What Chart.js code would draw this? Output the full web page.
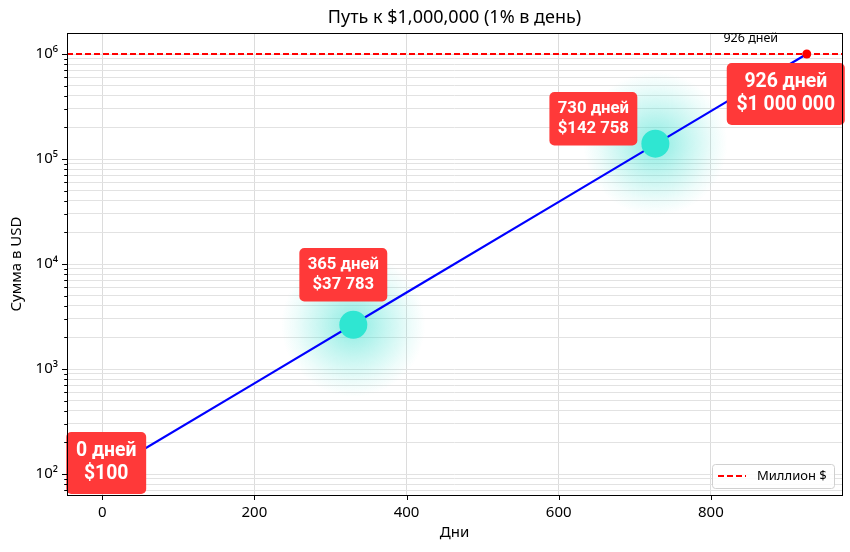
<!DOCTYPE html>
<html lang="ru">
<head>
<meta charset="utf-8">
<title>Путь к $1,000,000</title>
<script src="https://cdn.jsdelivr.net/npm/chart.js@4.4.1/dist/chart.umd.min.js"></script>
<style>
  html, body { margin: 0; padding: 0; background: #fff; }
  canvas { display: block; }
</style>
</head>
<body>
<canvas id="chart" width="850" height="552"></canvas>
<script>
// values
const days = [0, 200, 400, 600, 800, 926];
const balance = [100, 730, 5350, 39100, 286000, 1000000];

const millionLevel = 1000000;
const xLimits = [-46.3, 972.3];
const yLimits = [63.1, 1585000];

const markerDays = [330, 727];
const markerSums = [2640, 140000];

const goalDays = [926];
const goalSums = [1000000];

const labelDays = [0, 330, 727, 926];
const labelSums = [100, 2640, 140000, 1000000];
const labelLines = [
    ["0 дней", "$100"],
    ["365 дней", "$37 783"],
    ["730 дней", "$142 758"],
    ["926 дней", "$1 000 000"]
];
const goalNote = "926 дней";

const xTicks = [0, 200, 400, 600, 800];
const yDecades = [100, 1000, 10000, 100000, 1000000];
const yTickLabels = ["10²", "10³", "10⁴", "10⁵", "10⁶"];
const yMinorDecades = [10, 100, 1000, 10000, 100000, 1000000];
const yMinorSteps = [2, 3, 4, 5, 6, 7, 8, 9];

const titleText = "Путь к $1,000,000 (1% в день)";
const xTitle = "Дни";
const yTitle = "Сумма в USD";

// styling
const FONT = "'Noto Sans', sans-serif";
const BOX_FONT = "Roboto, sans-serif";
const labelOffsets = [[4, -11], [-10, -50], [-62, -25], [-21, 40]];
const labelSizes = [19.4, 16.7, 16.7, 19.4];

function yTickValues() {
    let vals = [];
    yMinorDecades.forEach(d => {
        [1].concat(yMinorSteps).forEach(m => {
            let v = m * d;
            if (v >= yLimits[0] && v <= yLimits[1]) vals.push(v);
        });
    });
    return vals;
}

function roundRect(ctx, x, y, w, h, r) {
    ctx.beginPath();
    ctx.moveTo(x + r, y);
    ctx.arcTo(x + w, y, x + w, y + h, r);
    ctx.arcTo(x + w, y + h, x, y + h, r);
    ctx.arcTo(x, y + h, x, y, r);
    ctx.arcTo(x, y, x + w, y, r);
    ctx.closePath();
}

const glowPlugin = {
    id: "glow",
    beforeDatasetsDraw(chart) {
        const ctx = chart.ctx, xs = chart.scales.x, ys = chart.scales.y;
        const area = chart.chartArea;
        ctx.save();
        ctx.beginPath();
        ctx.rect(area.left, area.top, area.right - area.left, area.bottom - area.top);
        ctx.clip();
        markerDays.forEach((d, i) => {
            let px = xs.getPixelForValue(d), py = ys.getPixelForValue(markerSums[i]);
            let g = ctx.createRadialGradient(px, py, 0, px, py, 72);
            g.addColorStop(0, "rgba(64,224,208,0.6)");
            g.addColorStop(0.45, "rgba(64,224,208,0.3)");
            g.addColorStop(0.8, "rgba(64,224,208,0.09)");
            g.addColorStop(1, "rgba(64,224,208,0)");
            ctx.fillStyle = g;
            ctx.fillRect(px - 72, py - 72, 144, 144);
        });
        ctx.restore();
    }
};

const decorPlugin = {
    id: "decor",
    afterDatasetsDraw(chart) {
        const ctx = chart.ctx, xs = chart.scales.x, ys = chart.scales.y;
        const area = chart.chartArea;
        ctx.save();

        // label boxes
        labelLines.forEach((lines, i) => {
            let size = labelSizes[i];
            ctx.font = "bold " + size + "px " + BOX_FONT;
            let w = Math.max(...lines.map(t => ctx.measureText(t).width)) + size;
            let h = size * 2.2 + size;
            let cx = xs.getPixelForValue(labelDays[i]) + labelOffsets[i][0];
            let cy = ys.getPixelForValue(labelSums[i]) + labelOffsets[i][1];
            ctx.fillStyle = "#ff3939";
            roundRect(ctx, cx - w / 2, cy - h / 2, w, h, 5);
            ctx.fill();
            ctx.fillStyle = "#ffffff";
            ctx.textAlign = "center";
            ctx.textBaseline = "middle";
            ctx.fillText(lines[0], cx, cy - size * 0.6);
            ctx.fillText(lines[1], cx, cy + size * 0.6);
        });

        // small note above goal point
        ctx.font = "12.5px " + FONT;
        ctx.fillStyle = "#000";
        ctx.textAlign = "center";
        ctx.textBaseline = "middle";
        ctx.fillText(goalNote, xs.getPixelForValue(goalDays[0]) - 56, ys.getPixelForValue(goalSums[0]) - 16);

        // tick marks
        ctx.strokeStyle = "#000";
        ctx.lineWidth = 1;
        ctx.beginPath();
        xTicks.forEach(v => {
            let px = Math.round(xs.getPixelForValue(v)) + 0.5;
            ctx.moveTo(px, area.bottom);
            ctx.lineTo(px, area.bottom + 5);
        });
        yTickValues().forEach(v => {
            let py = Math.round(ys.getPixelForValue(v)) + 0.5;
            let len = yDecades.includes(v) ? 5 : 2.8;
            ctx.moveTo(area.left, py);
            ctx.lineTo(area.left - len, py);
        });
        ctx.stroke();

        // frame
        ctx.strokeRect(Math.round(area.left) + 0.5, Math.round(area.top) + 0.5,
            Math.round(area.right - area.left), Math.round(area.bottom - area.top));

        // legend
        let lx = area.right - 130, ly = area.bottom - 31;
        ctx.fillStyle = "rgba(255,255,255,0.85)";
        ctx.strokeStyle = "#d0d0d0";
        roundRect(ctx, lx + 0.5, ly + 0.5, 122, 24, 3);
        ctx.fill();
        ctx.stroke();
        ctx.strokeStyle = "#ff0000";
        ctx.lineWidth = 2;
        ctx.setLineDash([6, 3]);
        ctx.beginPath();
        ctx.moveTo(lx + 6, ly + 12);
        ctx.lineTo(lx + 34, ly + 12);
        ctx.stroke();
        ctx.setLineDash([]);
        ctx.fillStyle = "#000";
        ctx.font = "13px " + FONT;
        ctx.textAlign = "left";
        ctx.fillText(chart.data.datasets[1].label, lx + 45, ly + 12.5);

        // titles
        ctx.textAlign = "center";
        ctx.font = "18px " + FONT;
        ctx.fillText(titleText, (area.left + area.right) / 2, 18);
        ctx.font = "15px " + FONT;
        ctx.fillText(xTitle, (area.left + area.right) / 2, 533);
        ctx.translate(17, (area.top + area.bottom) / 2);
        ctx.rotate(-Math.PI / 2);
        ctx.fillText(yTitle, 0, 0);
        ctx.restore();
    }
};

const ctx = document.getElementById("chart").getContext("2d");
new Chart(ctx, {
    type: "line",
    data: {
        datasets: [{
            label: "Капитал",
            data: days.map((d, i) => ({ x: d, y: balance[i] })),
            borderColor: "#0000ff",
            borderWidth: 2.2,
            pointRadius: 0,
            tension: 0,
            order: 3
        }, {
            label: "Миллион $",
            data: xLimits.map(x => ({ x: x, y: millionLevel })),
            borderColor: "#ff0000",
            borderWidth: 2,
            borderDash: [6, 3],
            pointRadius: 0,
            order: 4
        }, {
            label: "Отметки",
            type: "scatter",
            data: markerDays.map((d, i) => ({ x: d, y: markerSums[i] })),
            pointRadius: 14,
            pointHoverRadius: 14,
            backgroundColor: "#2fe6d2",
            borderWidth: 0,
            order: 1
        }, {
            label: "Цель",
            type: "scatter",
            data: goalDays.map((d, i) => ({ x: d, y: goalSums[i] })),
            pointRadius: 4.5,
            backgroundColor: "#ff0000",
            borderWidth: 0,
            order: 2
        }]
    },
    options: {
        responsive: false,
        animation: false,
        devicePixelRatio: 1,
        layout: { autoPadding: false, padding: { top: 33, right: 8, left: 0, bottom: 0 } },
        plugins: {
            legend: { display: false },
            tooltip: { enabled: false },
            title: { display: false }
        },
        scales: {
            x: {
                type: "linear",
                min: xLimits[0],
                max: xLimits[1],
                afterBuildTicks: s => { s.ticks = xTicks.map(v => ({ value: v })); },
                afterFit: s => { s.height = 57; },
                grid: { color: "#dcdcdc", lineWidth: 1, drawTicks: false },
                border: { display: false },
                ticks: {
                    padding: 9,
                    color: "#000",
                    autoSkip: false,
                    maxRotation: 0,
                    font: { family: FONT, size: 15 },
                    callback: v => String(v)
                }
            },
            y: {
                type: "logarithmic",
                min: yLimits[0],
                max: yLimits[1],
                afterBuildTicks: s => { s.ticks = yTickValues().map(v => ({ value: v })); },
                afterFit: s => { s.width = 67; },
                grid: { color: "#e2e2e2", lineWidth: 1, drawTicks: false },
                border: { display: false },
                ticks: {
                    padding: 9,
                    color: "#000",
                    autoSkip: false,
                    font: { family: FONT, size: 15 },
                    callback: v => {
                        let k = yDecades.indexOf(v);
                        return k >= 0 ? yTickLabels[k] : "";
                    }
                }
            }
        }
    },
    plugins: [glowPlugin, decorPlugin]
});
</script>
</body>
</html>
